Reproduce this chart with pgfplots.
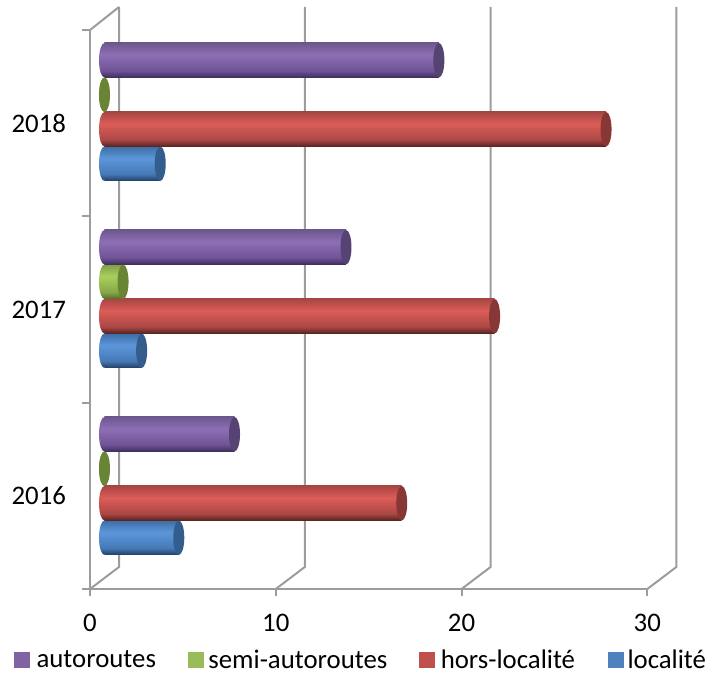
\documentclass[border=0pt]{standalone}
\usepackage{fontspec}
\setmainfont{Carlito}
\usepackage{pgfplots}
\usepackage{pgfplotstable}
\pgfplotsset{compat=1.18}

\definecolor{wallgray}{HTML}{9C9C9C}
\definecolor{legA}{HTML}{8064A2}
\definecolor{legS}{HTML}{9BBB59}
\definecolor{legH}{HTML}{C0504D}
\definecolor{legL}{HTML}{4F81BD}

% cylinder look: colour across the bar, bottom to top
\newcommand{\cylshade}[5]{%
  \definecolor{#1a}{HTML}{#2}\definecolor{#1b}{HTML}{#3}\definecolor{#1c}{HTML}{#4}\definecolor{#1d}{HTML}{#5}%
  \pgfdeclareverticalshading{#1}{100bp}{color(0bp)=(#1a); color(25bp)=(#1a); color(35bp)=(#1b); color(58bp)=(#1c); color(75bp)=(#1d); color(100bp)=(#1d)}}
\cylshade{cylA}{3D2E5C}{705396}{8E6EB6}{6C588E}
\cylshade{cylS}{546C2A}{86A848}{A8D05C}{809E46}
\cylshade{cylH}{582221}{AC4845}{DC5C58}{A84643}
\cylshade{cylL}{213D63}{4679B6}{5C96DA}{3C6EA5}

% round ends of the cylinders
\newcommand{\capmarks}[4]{%
  \pgfdeclareplotmark{end#1}{\fill[#3,draw=none] (0pt,#4) ellipse [x radius=5.5pt,y radius=17.25pt];}%
  \pgfdeclareplotmark{start#1}{\path[shade,shading=#2,draw=none] (0pt,#4) ++(0pt,17.25pt) arc [start angle=90,end angle=270,x radius=5.5pt,y radius=17.25pt] -- cycle;}}
\definecolor{capA}{HTML}{554374}
\definecolor{capS}{HTML}{6A8436}
\definecolor{capH}{HTML}{873836}
\definecolor{capL}{HTML}{335D8C}
\capmarks{A}{cylA}{capA}{51.75pt}
\capmarks{S}{cylS}{capS}{17.25pt}
\capmarks{H}{cylH}{capH}{-17.25pt}
\capmarks{L}{cylL}{capL}{-51.75pt}

\pgfplotstableread{
year base autoroutes semi hors localite
2016 0 7 0 16 4
2017 0 13 1 21 2
2018 0 18 0 27 3
}\accidents

\pgfplotsset{
  cyl/.style n args={2}{forget plot,xbar,bar width=34.5pt,bar shift=#2,draw=none,shade,shading=#1},
  sq/.style={legend image code/.code={\fill[#1] (0pt,-7.5pt) rectangle (15pt,7.5pt);}},
}

\begin{document}
\begin{tikzpicture}[x=1pt,y=1pt]
  \path[use as bounding box] (0,0) rectangle (708,674);

  % frame, ticks and labels
  \begin{axis}[
    at={(90pt,85pt)},anchor=south west,
    scale only axis,width=557.3pt,height=559pt,
    xmin=0,xmax=30,ymin=2015.5,ymax=2018.5,
    clip=false,
    axis x line*=bottom,axis y line*=left,
    axis line style={wallgray,line width=2pt,-},
    tick style={wallgray,line width=2pt},
    tick align=outside,
    major tick length=7.5pt,
    xtick={0,10,20,30},
    ytick={2015.5,2016.5,2017.5,2018.5},
    yticklabels={2016,2017,2018,},
    y tick label as interval,
    /pgf/number format/assume math mode=true,
    /pgf/number format/1000 sep={},
    tick label style={font=\fontsize{26.8}{30}\selectfont,black},
    xticklabel style={yshift=-14pt},
    yticklabel style={xshift=-13pt},
  ]
    \pgfplotsinvokeforeach{0,10,20,30}{
      \draw[wallgray,line width=2pt] (axis cs:#1,2015.5) -- ++(29pt,22pt) -- ++(0pt,560pt);
    }
    \draw[wallgray,line width=2pt] (axis cs:0,2018.5) -- ++(29pt,23pt);
  \end{axis}

  % cylinders, one plot per bar so that the shading fits each bar
  \begin{axis}[
    at={(90pt,85pt)},anchor=south west,
    scale only axis,width=557.3pt,height=559pt,
    xmin=-0.78,xmax=29.22,ymin=2015.449,ymax=2018.4385,
    hide axis,clip=false,
    legend style={at={(rel axis cs:-0.1364,-0.1265)},anchor=west,draw=none,fill=none,
      inner sep=0pt,legend columns=4,legend cell align=left,
      font=\fontsize{26.8}{30}\selectfont,
      nodes={inner xsep=0pt,inner ysep=0pt},
      /tikz/column 1/.style={column sep=7pt},
      /tikz/column 2/.style={column sep=32pt},
      /tikz/column 3/.style={column sep=5pt},
      /tikz/column 4/.style={column sep=32pt},
      /tikz/column 5/.style={column sep=6pt},
      /tikz/column 6/.style={column sep=33pt},
      /tikz/column 7/.style={column sep=4pt}},
  ]
    \addplot[forget plot,only marks,mark=startL] table[x=base,y=year]{\accidents};
    \pgfplotsinvokeforeach{2016,2017,2018}{
      \addplot[cyl={cylL}{-51.75pt},restrict y to domain=#1:#1] table[x=localite,y=year]{\accidents};
    }
    \addplot[forget plot,only marks,mark=endL] table[x=localite,y=year]{\accidents};

    \addplot[forget plot,only marks,mark=startH] table[x=base,y=year]{\accidents};
    \pgfplotsinvokeforeach{2016,2017,2018}{
      \addplot[cyl={cylH}{-17.25pt},restrict y to domain=#1:#1] table[x=hors,y=year]{\accidents};
    }
    \addplot[forget plot,only marks,mark=endH] table[x=hors,y=year]{\accidents};

    \addplot[forget plot,only marks,mark=startS] table[x=base,y=year]{\accidents};
    % 2016 and 2018 are 0: only the end shows
    \addplot[cyl={cylS}{17.25pt},restrict y to domain=2017:2017] table[x=semi,y=year]{\accidents};
    \addplot[forget plot,only marks,mark=endS] table[x=semi,y=year]{\accidents};

    \addplot[forget plot,only marks,mark=startA] table[x=base,y=year]{\accidents};
    \pgfplotsinvokeforeach{2016,2017,2018}{
      \addplot[cyl={cylA}{51.75pt},restrict y to domain=#1:#1] table[x=autoroutes,y=year]{\accidents};
    }
    \addplot[forget plot,only marks,mark=endA] table[x=autoroutes,y=year]{\accidents};

    \addlegendimage{sq=legA}\addlegendentry{autoroutes}
    \addlegendimage{sq=legS}\addlegendentry{semi-autoroutes}
    \addlegendimage{sq=legH}\addlegendentry{hors-localité}
    \addlegendimage{sq=legL}\addlegendentry{localité}
  \end{axis}
\end{tikzpicture}
\end{document}
